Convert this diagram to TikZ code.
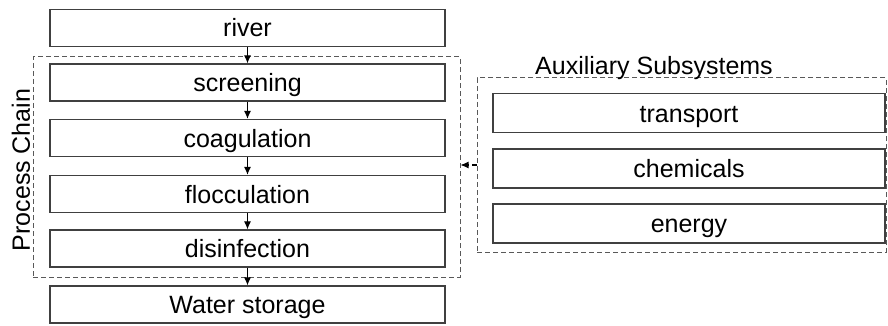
\documentclass[tikz,border=0pt]{standalone}
\usepackage{fontspec}
\setmainfont{Liberation Sans}
\usetikzlibrary{arrows.meta}

\begin{document}
\begin{tikzpicture}[x=1pt,y=-1pt,
            stage/.style={draw=black!75, line width=1.3pt, fill=white, minimum width=395pt, minimum height=37pt, inner sep=0pt, text height=18pt, text depth=0pt, font=\fontsize{25}{29}\selectfont},
            subsys/.style={stage, minimum width=392pt, minimum height=39pt},
            group/.style={draw=black!65, line width=1pt, dash pattern=on 5pt off 3pt, minimum width=#1, inner sep=0pt},
            flow/.style={-{Latex[length=8pt,width=7pt]}, line width=1.1pt, black}]
            \useasboundingbox (0,0) rectangle (888,326);

            % dashed groups
            \node[group=427pt, minimum height=220pt] (chain) at (246.5,167) {};
            \node[group=409pt, minimum height=174pt] (aux) at (681.5,165) {};
            \node[rotate=90, font=\fontsize{25}{29}\selectfont] (chainlabel) at (21,170) {Process Chain};
            \node[font=\fontsize{25}{29}\selectfont, anchor=base] (auxlabel) at (654,75) {Auxiliary Subsystems};

            % process chain
            \node[stage] (river)   at (247.5,28)    {river};
            \node[stage] (screen)  at (247.5,82.5)  {screening};
            \node[stage] (coag)    at (247.5,138)   {coagulation};
            \node[stage] (floc)    at (247.5,194)   {flocculation};
            \node[stage] (disinf)  at (247.5,248.5) {disinfection};
            \node[stage] (storage) at (247.5,304.5) {Water storage};

            \draw[flow] (river)  -- (screen);
            \draw[flow] (screen) -- (coag);
            \draw[flow] (coag)   -- (floc);
            \draw[flow] (floc)   -- (disinf);
            \draw[flow] (disinf) -- (storage);

            % auxiliary subsystems
            \node[subsys] (transport) at (689,113)   {transport};
            \node[subsys] (chemicals) at (689,168.5) {chemicals};
            \node[subsys] (energy)    at (689,223.5) {energy};

            \draw[flow, dash pattern=on 5pt off 3pt] (aux.west) -- (aux.west -| chain.east);
        \end{tikzpicture}
\end{document}
